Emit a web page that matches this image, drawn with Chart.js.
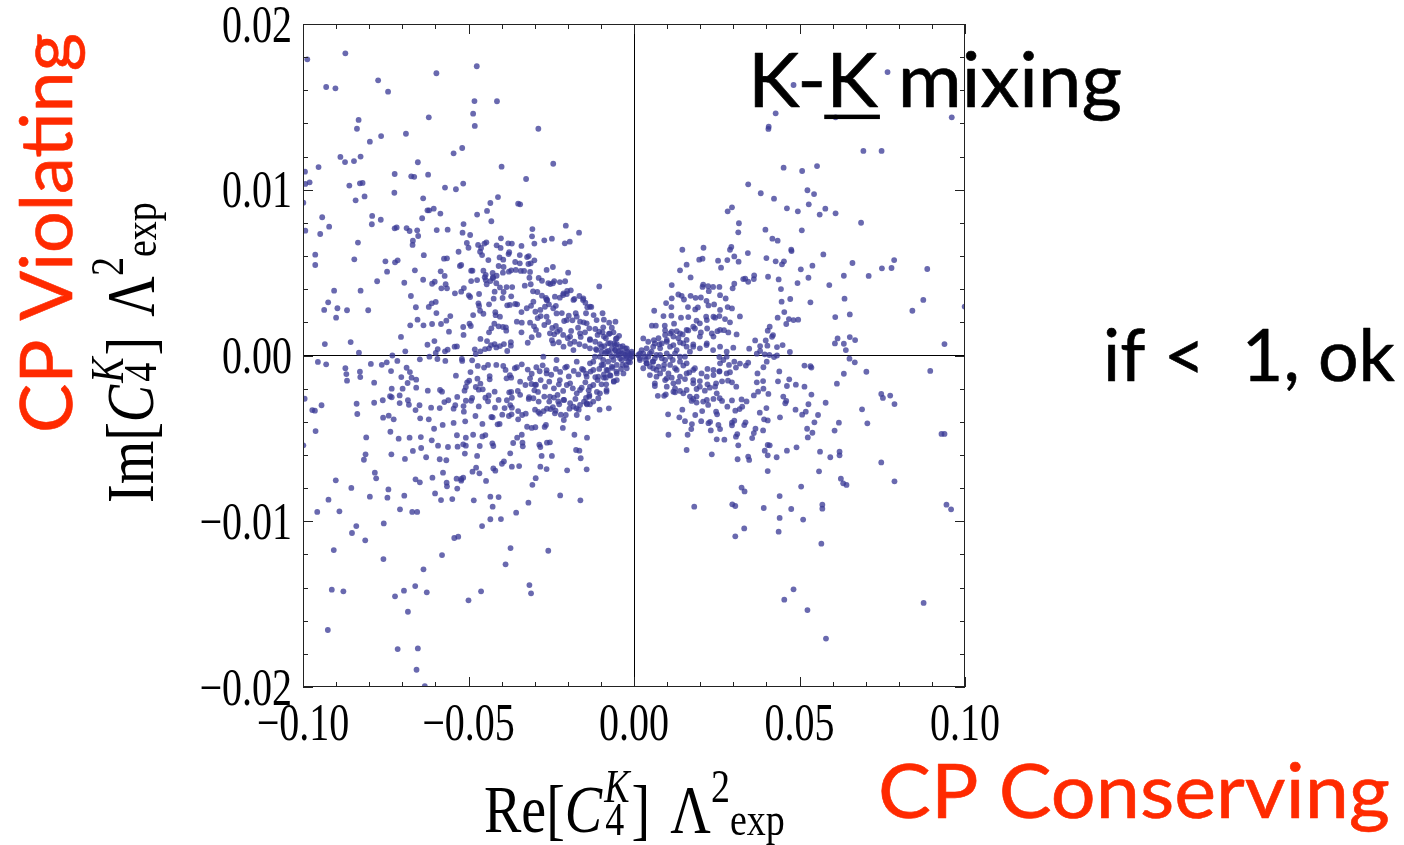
<!DOCTYPE html>
<html>
<head>
<meta charset="utf-8">
<script src="https://cdn.jsdelivr.net/npm/chart.js@4/dist/chart.umd.min.js"></script>
<style>
  html, body { margin: 0; padding: 0; background: #fff; }
  #wrap { width: 1404px; height: 845px; position: relative; }
</style>
</head>
<body>
<div id="wrap"><canvas id="grafik" width="1404" height="845"></canvas></div>
<script>
// Tick labels
const xTickLabels = ['\u22120.10', '\u22120.05', '0.00', '0.05', '0.10'];
const yTickLabels = ['\u22120.02', '\u22120.01', '0.00', '0.01', '0.02'];

// Points [Re, Im] grouped by region of the plane
const pointsNW = [[-0.0987,0.01787],[-0.0872,0.01823],[-0.0475,0.01745],[-0.0597,0.01703],[-0.0773,0.0166],[-0.093,0.0162],[-0.0902,0.01612],[-0.0743,0.01592],[-0.0482,0.01535],[-0.0414,0.01534],[-0.0486,0.01459],[-0.062,0.01437],[-0.0832,0.01421],[-0.0481,0.01385],[-0.0837,0.01368],[-0.0289,0.01368],[-0.0689,0.01338],[-0.0764,0.01324],[-0.0798,0.0129],[-0.0519,0.01252],[-0.0545,0.0122],[-0.0887,0.01198],[-0.0826,0.012],[-0.0873,0.01167],[-0.0846,0.01173],[-0.0653,0.01166],[-0.0244,0.01157],[-0.04,0.01139],[-0.0953,0.01137],[-0.0994,0.01109],[-0.0723,0.01095],[-0.0622,0.01091],[-0.0673,0.01081],[-0.0664,0.01078],[-0.0326,0.01065],[-0.0993,0.01035],[-0.098,0.01045],[-0.0828,0.01039],[-0.082,0.01041],[-0.086,0.01025],[-0.0516,0.01037],[-0.0571,0.01013],[-0.0538,0.01003],[-0.0724,0.00982],[-0.0814,0.0096],[-0.0637,0.00948],[-0.0841,0.00936],[-0.0434,0.0092],[-0.035,0.00916],[-0.0344,0.00912],[-0.0411,0.00956],[-0.0999,0.00922],[-0.0605,0.00886],[-0.0624,0.00876],[-0.0619,0.00876],[-0.0585,0.00856],[-0.0444,0.00872],[-0.0474,0.0085],[-0.064,0.00828],[-0.0942,0.00834],[-0.0791,0.00842],[-0.0765,0.00819],[-0.0431,0.0081],[-0.0792,0.00792],[-0.0515,0.00793],[-0.0921,0.00777],[-0.0717,0.00773],[-0.0723,0.00767],[-0.0687,0.00769],[-0.0307,0.00763],[-0.0206,0.00783],[-0.0993,0.00753],[-0.0655,0.00755],[-0.0678,0.00751],[-0.0596,0.00757],[-0.0563,0.00759],[-0.0518,0.00741],[-0.0166,0.00741],[-0.0948,0.00733],[-0.0652,0.00721],[-0.0495,0.00727],[-0.0402,0.00707],[-0.0308,0.00719],[-0.0271,0.00695],[-0.0248,0.00705],[-0.0194,0.00687],[-0.0209,0.00677],[-0.0834,0.00681],[-0.0668,0.00693],[-0.0669,0.00667],[-0.0505,0.00679],[-0.0471,0.00667],[-0.0462,0.00649],[-0.0452,0.00675],[-0.0446,0.00683],[-0.0415,0.00665],[-0.0403,0.00649],[-0.038,0.00677],[-0.0369,0.00675],[-0.034,0.00661],[-0.0301,0.00675],[-0.05,0.0065]];

const pointsNE = [[0.0766,0.0171],[0.0482,0.01632],[0.0428,0.01461],[0.0609,0.01437],[0.096,0.01437],[0.0407,0.0138],[0.0406,0.01367],[0.0693,0.01234],[0.0748,0.01234],[0.0452,0.01133],[0.0508,0.01113],[0.0553,0.01143],[0.0345,0.01033],[0.0383,0.00979],[0.0423,0.00946],[0.0524,0.00997],[0.0544,0.00974],[0.0528,0.00912],[0.0296,0.00894],[0.0283,0.0087],[0.0462,0.00888],[0.0495,0.0087],[0.0578,0.00886],[0.0561,0.0085],[0.0609,0.00858],[0.0317,0.00798],[0.0686,0.00801],[0.0315,0.00743],[0.0397,0.00759],[0.0507,0.00755],[0.0418,0.00705],[0.0434,0.00693],[0.0146,0.00638],[0.021,0.0065],[0.0294,0.00655],[0.029,0.00638],[0.0475,0.00638]];

const pointsW = [[-0.0963,0.00608],[-0.0963,0.00546],[-0.0845,0.0058],[-0.0751,0.00568],[-0.0722,0.00562],[-0.0714,0.00574],[-0.0746,0.00506],[-0.0635,0.00605],[-0.0776,0.00448],[-0.0906,0.00391],[-0.0826,0.00391],[-0.0924,0.00321],[-0.0936,0.00275],[-0.0896,0.00285],[-0.09,0.00228],[-0.0867,0.00273],[-0.0803,0.00273],[-0.0934,0.00069],[-0.0856,0.00081],[-0.0831,0.00017],[-0.0955,-0.00039],[-0.093,-0.00053],[-0.0872,-0.00077],[-0.0869,-0.00112],[-0.0867,-0.00152],[-0.0828,-0.00098],[-0.0827,-0.0013],[-0.0795,-0.00051],[-0.0762,-0.00056],[-0.0747,-0.00041],[-0.0785,-0.00164],[-0.0995,-0.00261],[-0.0972,-0.00329],[-0.0964,-0.00333],[-0.0944,-0.003],[-0.0962,-0.00456],[-0.0999,-0.00542],[-0.0838,-0.00291],[-0.0836,-0.00353],[-0.0785,-0.00285],[-0.0759,-0.0027],[-0.0758,-0.00375],[-0.0741,-0.00363],[-0.0726,-0.00385],[-0.0736,-0.0046],[-0.0809,-0.00494],[-0.0811,-0.00596],[-0.0816,-0.00629],[-0.0733,-0.00596],[-0.0711,-0.00502],[-0.0692,-0.00624],[-0.0678,-0.00496],[-0.0668,-0.00576],[-0.0644,-0.00492],[-0.0643,-0.00558],[-0.0628,-0.00614],[-0.0611,-0.00512],[-0.0592,-0.00544],[-0.0587,-0.00626],[-0.0567,-0.00632],[-0.0562,-0.00552],[-0.0535,-0.00481],[-0.0533,-0.0055],[-0.0516,-0.00536],[-0.0508,-0.00544],[-0.0511,-0.00592],[-0.0508,-0.00496],[-0.0486,-0.00478],[-0.0474,-0.00606],[-0.0477,-0.00677],[-0.0466,-0.00546],[-0.0458,-0.00488],[-0.0449,-0.0048],[-0.0428,-0.0053],[-0.0425,-0.00546],[-0.0399,-0.00653],[-0.0393,-0.00639],[-0.0425,-0.00681],[-0.0374,-0.0059],[-0.0369,-0.00671],[-0.0347,-0.00667],[-0.0353,-0.00496],[-0.0365,-0.00528],[-0.0339,-0.00478],[-0.0337,-0.00526],[-0.0336,-0.00548],[-0.0309,-0.00437],[-0.0283,-0.00552],[-0.0286,-0.00538],[-0.0283,-0.00671],[-0.0279,-0.00606],[-0.0263,-0.00526],[-0.0254,-0.00524],[-0.0264,-0.00685],[-0.0248,-0.00606],[-0.0215,-0.00437],[-0.018,-0.00478],[-0.0175,-0.0057],[-0.0165,-0.00574],[-0.0161,-0.0062],[-0.0142,-0.00496],[-0.0143,-0.00687]];

const pointsWMid = [[-0.0694,0.00439],[-0.0662,0.00514],[-0.0674,0.00359],[-0.0659,0.00291],[-0.0654,0.00216],[-0.0676,0.00182],[-0.0704,0.00112],[-0.073,0.0],[-0.0715,-0.00033],[-0.0691,0.00025],[-0.0636,0.00182],[-0.062,0.00293],[-0.0611,0.00315],[-0.0599,0.00323],[-0.0637,0.00457],[-0.061,0.00433],[-0.0602,0.00445],[-0.0584,0.00508],[-0.0574,0.00584],[-0.0565,0.00586],[-0.0572,0.0048],[-0.0582,0.00405],[-0.0565,0.00405],[-0.0569,0.0043],[-0.0597,0.00256],[-0.061,0.0019],[-0.0583,0.0019],[-0.0567,0.0021],[-0.0555,0.00238],[-0.0559,0.00144],[-0.0624,0.00065],[-0.0603,0.00087],[-0.0599,0.00015],[-0.0593,0.00039],[-0.0571,0.00025],[-0.0563,0.00035],[-0.0542,0.00053],[-0.0535,0.00055],[-0.0647,-0.00023],[-0.0618,-0.00007],[-0.0594,-0.00021],[-0.057,-0.00033],[-0.0734,-0.00094],[-0.0703,-0.0013],[-0.0687,-0.00074],[-0.0677,-0.001],[-0.0684,-0.00166],[-0.0658,-0.00146],[-0.0672,-0.00134],[-0.0732,-0.002],[-0.0699,-0.002],[-0.0658,-0.00194],[-0.0623,-0.00212],[-0.0586,-0.00208],[-0.058,-0.00218],[-0.0708,-0.00241],[-0.0732,-0.00252],[-0.0737,-0.00246],[-0.0708,-0.00287],[-0.0683,-0.0027],[-0.068,-0.00297],[-0.066,-0.00329],[-0.0648,-0.003],[-0.0646,-0.00379],[-0.062,-0.00385],[-0.0604,-0.00442],[-0.0613,-0.00315],[-0.0587,-0.00317],[-0.0578,-0.00419],[-0.0573,-0.00281],[-0.0561,-0.0027],[-0.0545,-0.00321],[-0.054,-0.003],[-0.0534,-0.0025],[-0.0545,-0.00407],[-0.0515,-0.00305],[-0.0508,-0.00273],[-0.0514,-0.00339],[-0.051,-0.00397],[-0.0512,-0.00212],[-0.0508,-0.0019],[-0.0498,-0.00152],[-0.0489,-0.00256],[-0.0492,-0.00273],[-0.0479,-0.00365],[-0.0469,-0.00307],[-0.0458,-0.00413],[-0.0519,-0.00033],[-0.052,-0.00021],[-0.0489,-0.00029],[-0.0538,-0.00122],[-0.0504,-0.00162],[-0.0494,-0.001],[-0.0473,-0.0014],[-0.0464,-0.0017],[-0.0478,-0.0019],[-0.0469,-0.00206],[-0.0457,-0.00204],[-0.0453,-0.00073],[-0.0441,-0.00057],[-0.0472,-0.00063],[-0.0436,-0.00124],[-0.0436,-0.00144],[-0.0421,-0.00218],[-0.0439,-0.00241],[-0.0441,-0.00276],[-0.0449,-0.00255],[-0.042,-0.00315],[-0.0409,-0.00268],[-0.0431,-0.00371],[-0.0427,-0.00373],[-0.0406,-0.00413],[-0.0412,-0.00415],[-0.0391,-0.00317],[-0.0398,-0.00357],[-0.0377,-0.00222],[-0.0371,-0.0022],[-0.0384,-0.0027],[-0.0369,-0.00255],[-0.0374,-0.00299],[-0.0369,-0.00315],[-0.0378,-0.00365],[-0.037,-0.00355],[-0.0385,-0.00138],[-0.0375,-0.00119],[-0.0371,-0.00134],[-0.0416,-0.00057],[-0.0395,-0.00063],[-0.0388,-0.00087],[-0.036,-0.00077],[-0.0351,-0.00214],[-0.0344,-0.00237],[-0.035,-0.00335],[-0.035,-0.00385],[-0.0338,-0.00359],[-0.0327,-0.00351],[-0.0318,-0.00262],[-0.0317,-0.00252],[-0.031,-0.00172],[-0.0296,-0.00176],[-0.0301,-0.0021],[-0.029,-0.0022],[-0.0299,-0.00327],[-0.0289,-0.00341],[-0.0284,-0.00351],[-0.0323,-0.0043],[-0.0298,-0.00433],[-0.027,-0.00431],[-0.0266,-0.00419],[-0.0273,-0.00335],[-0.0263,-0.00321],[-0.0245,-0.00311],[-0.0252,-0.00323],[-0.0237,-0.00333],[-0.0221,-0.00357],[-0.0212,-0.00389],[-0.0206,-0.00359],[-0.0229,-0.00277],[-0.0231,-0.00238],[-0.0195,-0.00321],[-0.0174,-0.00319],[-0.0167,-0.00327],[-0.0145,-0.00256],[-0.0135,-0.00238],[-0.014,-0.00377],[-0.0142,-0.00294],[-0.0133,-0.00294],[-0.0104,-0.00327],[-0.0076,-0.00319],[-0.0112,-0.0022],[-0.0061,-0.00154],[-0.0084,-0.00174],[-0.0091,-0.00134]];

const pointsWUpper = [[-0.053,0.00626],[-0.0459,0.00606],[-0.0465,0.00626],[-0.044,0.00576],[-0.0406,0.00592],[-0.0395,0.00578],[-0.0379,0.00612],[-0.0377,0.00623],[-0.0345,0.00606],[-0.0345,0.00556],[-0.0359,0.00564],[-0.0323,0.00594],[-0.0318,0.006],[-0.0312,0.00556],[-0.0301,0.00574],[-0.0526,0.0054],[-0.0522,0.00546],[-0.0492,0.00512],[-0.0488,0.00512],[-0.0455,0.00512],[-0.0448,0.00487],[-0.0451,0.00472],[-0.0427,0.00498],[-0.0426,0.00472],[-0.0415,0.00481],[-0.0409,0.0054],[-0.0394,0.00534],[-0.0396,0.005],[-0.0378,0.00506],[-0.0371,0.00514],[-0.0357,0.00516],[-0.0342,0.0051],[-0.0332,0.0051],[-0.0314,0.00504],[-0.0319,0.00552],[-0.0264,0.00516],[-0.0245,0.00534],[-0.0199,0.005],[-0.0492,0.00449],[-0.0474,0.00455],[-0.0448,0.00455],[-0.0541,0.00375],[-0.0522,0.00385],[-0.0514,0.00407],[-0.0499,0.00363],[-0.0495,0.00353],[-0.0468,0.00371],[-0.047,0.00315],[-0.0468,0.00299],[-0.0465,0.0027],[-0.0486,0.00244],[-0.0455,0.00252],[-0.0497,0.00192],[-0.0493,0.00178],[-0.0516,0.00172],[-0.0515,0.00124],[-0.0445,0.0043],[-0.0434,0.00449],[-0.0426,0.00466],[-0.0416,0.00436],[-0.0421,0.00385],[-0.0424,0.00343],[-0.0405,0.00411],[-0.0394,0.00383],[-0.0397,0.00347],[-0.0385,0.00413],[-0.0368,0.00413],[-0.0371,0.00357],[-0.0383,0.00303],[-0.0375,0.00305],[-0.0359,0.00311],[-0.0438,0.00309],[-0.0419,0.00261],[-0.0418,0.00243],[-0.0431,0.00164],[-0.0438,0.0014],[-0.0422,0.00192],[-0.0409,0.00176],[-0.0464,0.001],[-0.0444,0.00087],[-0.0432,0.00063],[-0.0421,0.00068],[-0.0416,0.00049],[-0.0405,0.00057],[-0.0481,0.00037],[-0.0478,0.00009],[-0.0464,0.00025],[-0.045,0.00039],[-0.0438,0.00043],[-0.0405,0.00234],[-0.0396,0.00172],[-0.0387,0.0017],[-0.0386,0.0015],[-0.0393,0.00069],[-0.0372,0.0008],[-0.0372,0.00059],[-0.0383,0.00027],[-0.0353,0.00309],[-0.034,0.00262],[-0.0339,0.00198],[-0.0354,0.00204],[-0.034,0.0014],[-0.033,0.00421],[-0.0312,0.0043],[-0.0305,0.00387],[-0.0292,0.00383],[-0.0304,0.00325],[-0.0316,0.00469],[-0.0288,0.00468],[-0.0278,0.00451],[-0.0259,0.00437],[-0.0253,0.00431],[-0.0245,0.00436],[-0.0241,0.00449],[-0.0224,0.00443],[-0.0208,0.00448],[-0.0202,0.00389],[-0.0191,0.00393],[-0.0203,0.00371],[-0.0278,0.00361],[-0.0266,0.00347],[-0.0262,0.00335],[-0.0269,0.00294],[-0.0257,0.00309],[-0.0244,0.00285],[-0.0236,0.003],[-0.0324,0.00285],[-0.0311,0.003],[-0.0298,0.00264],[-0.0283,0.00275],[-0.0282,0.00238],[-0.0291,0.00226],[-0.0314,0.00198],[-0.0302,0.00176],[-0.0296,0.00154],[-0.0288,0.00124],[-0.0309,0.0011],[-0.0321,0.00077],[-0.0271,0.00184],[-0.0259,0.00202],[-0.0247,0.00166],[-0.0236,0.00178],[-0.0232,0.00144],[-0.0241,0.00128],[-0.0248,0.00092],[-0.0227,0.0008],[-0.0218,0.00256],[-0.0211,0.00208],[-0.0197,0.0024],[-0.0186,0.00212],[-0.0176,0.00255],[-0.0163,0.00204],[-0.0152,0.002],[-0.0224,0.00349],[-0.0214,0.00365],[-0.018,0.00341],[-0.0165,0.00359],[-0.0154,0.00335],[-0.0147,0.00319],[-0.0141,0.00291],[-0.0129,0.00293],[-0.0122,0.00244],[-0.0145,0.00255],[-0.0105,0.00417],[-0.0095,0.00255],[-0.0091,0.00216],[-0.0075,0.00198],[-0.0056,0.00204],[-0.0067,0.00168],[-0.0093,0.0017],[-0.0117,0.0016],[-0.0135,0.00164],[-0.011,0.00124],[-0.0095,0.0014],[-0.0085,0.00104],[-0.0076,0.0013],[-0.0062,0.0014],[-0.0045,0.00119],[-0.0055,0.001],[-0.0169,0.00168],[-0.0148,0.0014],[-0.0161,0.00112],[-0.0133,0.00098],[-0.0117,0.00083],[-0.0103,0.00069],[-0.009,0.00057],[-0.0072,0.00074],[-0.0052,0.00068],[-0.0034,0.00057],[-0.0022,0.00043],[-0.0007,0.00023],[-0.0042,0.00027],[-0.0057,0.00033],[-0.0078,0.00027],[-0.0098,0.00023],[-0.0115,0.00039],[-0.0133,0.00043],[-0.0148,0.00057],[-0.0165,0.00068],[-0.018,0.00083],[-0.0193,0.00071],[-0.02,0.00104],[-0.0214,0.00124],[-0.019,0.00148]];

const pointsWLower = [[-0.0354,-0.00071],[-0.0339,-0.00053],[-0.0321,-0.00085],[-0.0309,-0.0011],[-0.0295,-0.00071],[-0.0285,-0.00095],[-0.0276,-0.00059],[-0.0264,-0.00089],[-0.025,-0.00116],[-0.0236,-0.00081],[-0.0223,-0.00099],[-0.0208,-0.00073],[-0.0197,-0.00126],[-0.0182,-0.00093],[-0.0168,-0.00114],[-0.0157,-0.00081],[-0.0145,-0.0011],[-0.0131,-0.00097],[-0.0117,-0.0013],[-0.0105,-0.00081],[-0.0091,-0.00114],[-0.0079,-0.00089],[-0.0065,-0.00075],[-0.0053,-0.00097],[-0.0039,-0.00081],[-0.0024,-0.00057],[-0.0012,-0.00041],[-0.0344,-0.00158],[-0.0328,-0.00178],[-0.0314,-0.00138],[-0.0299,-0.00178],[-0.0282,-0.00148],[-0.0269,-0.00188],[-0.0256,-0.00158],[-0.0242,-0.00198],[-0.0227,-0.00174],[-0.0214,-0.00214],[-0.0203,-0.00178],[-0.0185,-0.00198],[-0.0173,-0.00228],[-0.0158,-0.00194],[-0.0147,-0.00162],[-0.0137,-0.0021],[-0.0123,-0.00178],[-0.011,-0.00148],[-0.0098,-0.00174],[-0.0085,-0.00134],[-0.0071,-0.00122],[-0.0052,-0.00108],[-0.0304,-0.00258],[-0.0288,-0.00278],[-0.0271,-0.00248],[-0.0256,-0.00278],[-0.0242,-0.00254],[-0.0226,-0.00294],[-0.0211,-0.00268],[-0.0193,-0.00288],[-0.0177,-0.00262],[-0.0163,-0.00298],[-0.0151,-0.00278],[-0.0135,-0.00248],[-0.0123,-0.00278],[-0.0108,-0.00258],[-0.0083,-0.00218],[-0.0061,-0.00158]];

const pointsCore = [[-0.0032,0.00013],[-0.002,0.00023],[-0.0012,0.00003],[-0.0024,-0.00017],[-0.0037,-0.00027],[-0.0047,0.00003],[-0.0057,0.00033],[-0.0067,-0.00007],[-0.0078,-0.00037],[-0.0088,0.00013],[-0.0098,0.00053],[-0.0042,0.00053],[-0.0027,0.00043],[-0.0052,-0.00057],[-0.0067,-0.00067],[-0.0083,-0.00087],[-0.0093,-0.00057],[-0.0012,-0.00017],[-0.0007,-0.00007],[-0.0017,-0.00037],[-0.0034,-0.00057],[-0.006,0.00073],[-0.0078,0.00073],[-0.0091,0.00114],[-0.0105,0.00144],[-0.0073,0.00134],[-0.0052,0.00104],[-0.0118,-0.00007],[-0.0133,-0.00047],[-0.0123,-0.00087],[-0.0143,-0.00128],[-0.0108,-0.00128],[-0.0073,-0.00118],[0.0013,0.00003],[0.0018,-0.00017],[0.0028,0.00013],[0.0036,-0.00027],[0.0043,-0.00007],[0.0053,0.00023],[0.0058,-0.00037],[0.0068,0.00003],[0.0079,0.00043],[0.0084,-0.00017],[0.0091,-0.00057],[0.0099,0.00013],[0.0109,0.00053],[0.0117,-0.00027],[0.0124,-0.00077],[0.0129,0.00033],[0.0139,-0.00007],[0.0149,0.00073],[0.0159,-0.00047],[0.0169,0.00023],[0.0179,-0.00087],[0.0063,0.00073],[0.0074,0.00104],[0.0094,0.00124],[0.0114,0.00144],[0.0134,0.00104],[0.0048,-0.00067],[0.0068,-0.00087],[0.0104,-0.00108],[0.0023,0.00033]];

const pointsCoreLeft = [[-0.0264,0.00335],[-0.0239,0.00355],[-0.0213,0.00375],[-0.0183,0.00335],[-0.0153,0.00345],[-0.0133,0.00295],[-0.0264,0.00234],[-0.0234,0.00254],[-0.0203,0.00214],[-0.0173,0.00234],[-0.0143,0.00194],[-0.0113,0.00214],[-0.0254,0.00134],[-0.0224,0.00154],[-0.0193,0.00114],[-0.0163,0.00134],[-0.0133,0.00094],[-0.0183,0.00033],[-0.0213,0.00053],[-0.0244,0.00073],[-0.0274,-0.00007],[-0.0234,-0.00027],[-0.0203,-0.00067],[-0.0173,-0.00037],[-0.0153,-0.00087],[-0.0264,-0.00108],[-0.0224,-0.00148],[-0.0193,-0.00168],[-0.0163,-0.00208],[-0.0133,-0.00188],[-0.0103,-0.00228],[-0.0254,-0.00248],[-0.0213,-0.00268],[-0.0183,-0.00309],[-0.0143,-0.00289],[-0.0083,-0.00208],[-0.0052,-0.00148],[-0.0032,-0.00108],[-0.0022,-0.00077],[-0.0239,-0.00349],[-0.0173,-0.00359],[-0.0083,0.00023],[-0.0067,0.00043],[-0.0054,0.00003],[-0.0042,-0.00017],[-0.0027,0.00003],[-0.0017,0.00013],[-0.0007,0.00013],[-0.0103,-0.00007],[-0.0093,-0.00027],[-0.0062,-0.00027],[-0.0047,0.00023],[-0.0022,-0.00007],[-0.0037,0.00013],[-0.0073,0.00013],[-0.0113,0.00033],[-0.0098,-0.00057],[-0.0123,-0.00037],[-0.0057,0.00063]];

const pointsCoreRight = [[0.0018,0.00013],[0.0033,-0.00007],[0.0048,0.00013],[0.0063,-0.00017],[0.0079,0.00003],[0.0094,-0.00027],[0.0109,-0.00007],[0.0124,0.00013],[0.0139,-0.00037],[0.0154,-0.00007],[0.0038,0.00043],[0.0058,0.00053],[0.0084,0.00073],[0.0099,0.00094],[0.0119,0.00114],[0.0139,0.00134],[0.0159,0.00154],[0.0179,0.00174],[0.0199,0.00194],[0.022,0.00214],[0.024,0.00234],[0.026,0.00275],[0.0199,0.00114],[0.022,0.00073],[0.024,0.00114],[0.026,0.00154],[0.0179,0.00053],[0.0159,0.00094],[0.0038,-0.00047],[0.0058,-0.00077],[0.0079,-0.00108],[0.0099,-0.00138],[0.0119,-0.00168],[0.0139,-0.00128],[0.0159,-0.00108],[0.0179,-0.00148],[0.0199,-0.00188],[0.022,-0.00128],[0.024,-0.00087],[0.026,-0.00047],[0.028,-0.00007],[0.0159,-0.00208],[0.0189,-0.00248],[0.022,-0.00268],[0.025,-0.00228]];

const pointsE = [[0.0344,0.00618],[0.0476,0.0063],[0.0572,0.0061],[0.0139,0.00514],[0.0159,0.00548],[0.0171,0.00471],[0.0197,0.00578],[0.0207,0.00584],[0.0254,0.00572],[0.0282,0.00576],[0.0263,0.0053],[0.0303,0.00598],[0.0316,0.00566],[0.033,0.00461],[0.0336,0.00463],[0.0345,0.00445],[0.0363,0.00483],[0.0362,0.00461],[0.04,0.00588],[0.0428,0.00568],[0.0447,0.0055],[0.0453,0.00568],[0.0405,0.00475],[0.0437,0.00459],[0.0504,0.0052],[0.0539,0.00542],[0.0527,0.00469],[0.0494,0.00437],[0.0444,0.00401],[0.0472,0.00341],[0.0446,0.00325],[0.0533,0.00321],[0.059,0.00425],[0.0634,0.00481],[0.066,0.00558],[0.0709,0.0048],[0.0749,0.00526],[0.0778,0.00528],[0.0786,0.00576],[0.0886,0.00522],[0.0636,0.00343],[0.0652,0.00248],[0.0608,0.00232],[0.0841,0.0027],[0.0874,0.00335],[0.0999,0.00295],[0.0454,0.00262],[0.0468,0.0022],[0.046,0.0019],[0.0482,0.00214],[0.0496,0.00216],[0.0434,0.00228],[0.041,0.00174],[0.0404,0.0015],[0.0417,0.00113],[0.042,0.00123],[0.0607,0.00073],[0.0615,0.00103],[0.0634,0.00071],[0.0652,0.00111],[0.0668,0.00093],[0.064,0.00033],[0.0938,0.00069],[0.0432,0.00051],[0.0449,0.00063],[0.0471,0.00021],[0.0432,0.0],[0.0366,0.00091],[0.0381,0.00057],[0.0398,0.00091],[0.0403,0.00059],[0.0348,0.00041],[0.0371,0.00011],[0.0381,0.00027],[0.0395,0.00007],[0.0409,0.00003],[0.0423,-0.00009],[0.0651,-0.00019],[0.0667,-0.00041],[0.0515,-0.00061],[0.0533,-0.00065],[0.0536,-0.00073],[0.0702,-0.00098],[0.0895,-0.00093],[0.0634,-0.0011],[0.0613,-0.0017],[0.0747,-0.00232],[0.0752,-0.00256],[0.0774,-0.00242],[0.0787,-0.00293],[0.0689,-0.00325],[0.0705,-0.00409],[0.0619,-0.00405],[0.0606,-0.00453],[0.0579,-0.00285],[0.0556,-0.00359],[0.0545,-0.00403],[0.0539,-0.00466],[0.0523,-0.00442],[0.0525,-0.00494],[0.0929,-0.00473],[0.0938,-0.00473],[0.0515,-0.00188],[0.0536,-0.00236],[0.0527,-0.00294],[0.0488,-0.00327],[0.0508,-0.00357],[0.0519,-0.00339],[0.046,-0.00274],[0.0451,-0.00248],[0.0457,-0.00288],[0.0489,-0.00176],[0.0469,-0.00144],[0.0462,-0.00184],[0.0439,-0.00096],[0.0435,-0.00156],[0.0441,-0.00373],[0.0562,-0.0058],[0.0593,-0.00614],[0.0621,-0.0058],[0.0621,-0.00602],[0.0747,-0.00645],[0.0462,-0.00574],[0.0491,-0.00554],[0.0404,-0.0054],[0.041,-0.00542],[0.0395,-0.00574],[0.0431,-0.00614],[0.0404,-0.00602],[0.04,-0.00317],[0.038,-0.00345],[0.0404,-0.00392],[0.039,-0.00452],[0.0393,-0.00385],[0.0367,-0.00442],[0.0357,-0.00498],[0.0362,-0.00468],[0.0345,-0.0061],[0.0348,-0.0063],[0.0313,-0.00626],[0.0315,-0.00542],[0.0308,-0.0049],[0.0312,-0.00474],[0.0333,-0.0042],[0.0337,-0.00403],[0.0296,-0.00405],[0.0303,-0.00393],[0.0296,-0.00421],[0.0273,-0.00508],[0.025,-0.00506],[0.0235,-0.00596],[0.0159,-0.0057],[0.0104,-0.00478],[0.0162,-0.00478],[0.0154,-0.00396],[0.0173,-0.00444],[0.0175,-0.00414],[0.0103,-0.00355],[0.0137,-0.00373],[0.0146,-0.00327],[0.0185,-0.00359],[0.0206,-0.00335],[0.0203,-0.00396],[0.0225,-0.00408],[0.023,-0.004],[0.0232,-0.00452],[0.0255,-0.00419],[0.026,-0.00444],[0.0248,-0.00339],[0.0251,-0.00355],[0.0282,-0.00309],[0.0306,-0.00333],[0.0319,-0.00323],[0.0327,-0.00309],[0.0296,-0.00271],[0.0325,-0.00265],[0.034,-0.00277],[0.0362,-0.00241],[0.0375,-0.00218],[0.0391,-0.002],[0.0406,-0.00232],[0.0371,-0.00162],[0.039,-0.00154],[0.0373,-0.00108],[0.0391,-0.00071],[0.0401,-0.00037]];

const pointsEInner = [[0.0072,-0.00243],[0.0091,-0.00243],[0.0096,-0.00235],[0.0063,-0.00184],[0.0119,-0.00218],[0.0124,-0.00222],[0.0139,-0.00214],[0.0169,-0.00248],[0.0179,-0.00262],[0.0174,-0.00274],[0.0189,-0.00284],[0.0209,-0.00278],[0.0224,-0.00298],[0.024,-0.00262],[0.0259,-0.00258],[0.0266,-0.00274],[0.0214,-0.00212],[0.0229,-0.00194],[0.0248,-0.00168],[0.0266,-0.00156],[0.0284,-0.00152],[0.0296,-0.00162],[0.0309,-0.00188],[0.028,-0.00108],[0.029,-0.00101],[0.0308,-0.00073],[0.032,-0.00049],[0.0338,-0.00061],[0.0345,-0.00043],[0.0303,-0.00037],[0.0258,-0.00097],[0.0287,-0.00057],[0.027,-0.00027],[0.0258,-0.00009],[0.0061,0.0027],[0.0054,0.0018],[0.0066,0.0018],[0.0114,0.00425],[0.0097,0.00316],[0.0114,0.00345],[0.0113,0.00292],[0.0134,0.00368],[0.0089,0.00238],[0.0113,0.0024],[0.0093,0.0018],[0.0121,0.00192],[0.0144,0.0036],[0.0151,0.00338],[0.0171,0.0036],[0.0186,0.00348],[0.0202,0.0035],[0.0219,0.0033],[0.0207,0.00414],[0.0209,0.00428],[0.0226,0.00388],[0.0239,0.00414],[0.0258,0.00414],[0.0224,0.00418],[0.0163,0.00292],[0.0185,0.00278],[0.0193,0.0029],[0.0225,0.00302],[0.0242,0.00308],[0.026,0.00364],[0.0277,0.00344],[0.0283,0.00292],[0.0296,0.00284],[0.0298,0.00405],[0.0303,0.00433],[0.032,0.00236],[0.0142,0.00228],[0.0164,0.00232],[0.0189,0.0021],[0.0218,0.00234],[0.0245,0.00228],[0.0258,0.00238],[0.0275,0.0022],[0.029,0.002],[0.0094,0.00151],[0.0109,0.00133],[0.0129,0.00147],[0.0147,0.00127],[0.0164,0.00151],[0.0184,0.00163],[0.0202,0.00139],[0.0221,0.00163],[0.0235,0.00133],[0.0252,0.00147],[0.0272,0.00153],[0.0285,0.00139],[0.031,0.00127],[0.0028,0.00103],[0.0043,0.00083],[0.006,0.00093],[0.0077,0.00067],[0.0099,0.00083],[0.0119,0.00063],[0.0139,0.00079],[0.0159,0.00053],[0.0179,0.00067],[0.0199,0.00043],[0.0219,0.00063],[0.0239,0.00033],[0.026,0.00053],[0.028,0.00023],[0.03,0.00047],[0.0018,-0.00027],[0.0038,-0.00047],[0.0056,-0.00037],[0.0074,-0.00067],[0.0089,-0.00081],[0.0109,-0.00057],[0.0129,-0.00087],[0.0149,-0.00061],[0.0167,-0.00102],[0.0184,-0.00077],[0.0204,-0.00108],[0.0222,-0.00081],[0.024,-0.00118],[0.0258,-0.00094],[0.0028,-0.00077],[0.0048,-0.00118],[0.0068,-0.00128],[0.0094,-0.00148],[0.0114,-0.00134],[0.0134,-0.00158],[0.0154,-0.00142],[0.0179,-0.00168],[0.0199,-0.00154],[0.0222,-0.00174],[0.0245,-0.00188],[0.0099,-0.00188],[0.0124,-0.00198],[0.0149,-0.00228],[0.0189,-0.00202],[0.0063,-0.00168]];

const pointsSW = [[-0.0783,-0.00707],[-0.0779,-0.00741],[-0.0901,-0.00753],[-0.0854,-0.00799],[-0.0923,-0.0087],[-0.0957,-0.00944],[-0.089,-0.0094],[-0.0798,-0.00852],[-0.0745,-0.00858],[-0.0742,-0.00808],[-0.0694,-0.00846],[-0.0707,-0.00928],[-0.067,-0.00944],[-0.0655,-0.00944],[-0.0756,-0.01013],[-0.0839,-0.01029],[-0.0852,-0.01071],[-0.0812,-0.01115],[-0.0907,-0.01174],[-0.0757,-0.01228],[-0.066,-0.00747],[-0.0647,-0.00765],[-0.0609,-0.00737],[-0.0601,-0.00832],[-0.0577,-0.00707],[-0.0566,-0.00767],[-0.0565,-0.00789],[-0.0583,-0.00872],[-0.0549,-0.00866],[-0.0536,-0.00743],[-0.0534,-0.00803],[-0.0522,-0.00755],[-0.0516,-0.00737],[-0.0522,-0.00745],[-0.0488,-0.00701],[-0.0467,-0.00711],[-0.0484,-0.00874],[-0.0447,-0.00757],[-0.0459,-0.01029],[-0.0434,-0.00852],[-0.0427,-0.00912],[-0.0434,-0.00988],[-0.0419,-0.00695],[-0.0409,-0.00854],[-0.0402,-0.00987],[-0.0356,-0.00948],[-0.0543,-0.01101],[-0.0531,-0.01093],[-0.058,-0.01204],[-0.0636,-0.0129],[-0.0373,-0.01162],[-0.0388,-0.0126],[-0.0319,-0.00888],[-0.0307,-0.0078],[-0.0297,-0.0074],[-0.0202,-0.00693],[-0.0223,-0.00844],[-0.0162,-0.00874],[-0.0259,-0.01178],[-0.0316,-0.01385],[-0.0311,-0.01435],[-0.0661,-0.01391],[-0.0695,-0.01419],[-0.0626,-0.01429],[-0.0722,-0.01453],[-0.0913,-0.01413],[-0.0878,-0.01423],[-0.0683,-0.01546],[-0.05,-0.01477],[-0.0462,-0.01423],[-0.0925,-0.01656],[-0.0714,-0.01771],[-0.0653,-0.01767],[-0.0657,-0.01896],[-0.0632,-0.01995]];

const pointsSE = [[0.0404,-0.00697],[0.0559,-0.00699],[0.0625,-0.00743],[0.0632,-0.00771],[0.0642,-0.00781],[0.0787,-0.00759],[0.0325,-0.00797],[0.0334,-0.0082],[0.0505,-0.00791],[0.044,-0.00848],[0.0182,-0.00912],[0.0297,-0.00898],[0.0306,-0.00908],[0.0392,-0.0092],[0.0475,-0.00926],[0.0569,-0.009],[0.0569,-0.00924],[0.0944,-0.009],[0.0958,-0.00928],[0.044,-0.0098],[0.0511,-0.0099],[0.0437,-0.01063],[0.0333,-0.01043],[0.0306,-0.01091],[0.0566,-0.01135],[0.0482,-0.01411],[0.0454,-0.01473],[0.0524,-0.01536],[0.0875,-0.01493],[0.058,-0.01708]];

const allPoints = [].concat(pointsNW, pointsNE, pointsW, pointsWMid, pointsWUpper, pointsWLower,
  pointsCore, pointsCoreLeft, pointsCoreRight, pointsE, pointsEInner, pointsSW, pointsSE);

const SERIF = '"Liberation Serif", "Times New Roman", serif';
const SANS = 'Lato, "Open Sans", sans-serif';
const RED = '#ff2a00';
const STRETCH = 1.3;       // tall, narrow look of the tick numbers
const LABEL_STRETCH = 1.22;

function isMajor(v, step) {
  return Math.abs(v / step - Math.round(v / step)) < 1e-6;
}

// sans text with a fixed cap height, scaled horizontally to the given width
function fitText(ctx, pieces, x, y, width, cap, angle, color, underlineIdx) {
  const size = cap / 0.72;
  ctx.save();
  ctx.font = size + 'px ' + SANS;
  const full = ctx.measureText(pieces.join('')).width;
  ctx.translate(x, y);
  ctx.rotate(angle);
  ctx.scale(width / full, 1);
  ctx.fillStyle = color;
  ctx.strokeStyle = color;
  ctx.lineWidth = 0.6;
  ctx.lineJoin = 'round';
  ctx.textAlign = 'left';
  ctx.textBaseline = 'alphabetic';
  let cx = 0;
  pieces.forEach((p, i) => {
    const w = ctx.measureText(p).width;
    ctx.fillText(p, cx, 0);
    ctx.strokeText(p, cx, 0);
    if (i === underlineIdx) ctx.fillRect(cx - 2, size * 0.1, w + 4, size * 0.058);
    cx += w;
  });
  ctx.restore();
}

// Re[C_4^K] Λ^2_exp style label
function axisLabel(ctx, prefix, x, y, angle) {
  const F = 56, f = 38;
  ctx.save();
  ctx.translate(x, y);
  ctx.rotate(angle);
  ctx.scale(1, LABEL_STRETCH);
  ctx.fillStyle = '#000';
  ctx.textAlign = 'left';
  ctx.textBaseline = 'alphabetic';
  let cx = 0;
  const put = (t, font, dy, dx) => { ctx.font = font; ctx.fillText(t, cx + (dx || 0), dy); return ctx.measureText(t).width + (dx || 0); };
  cx += put(prefix + '[', F + 'px ' + SERIF, 0);
  cx += put('C', 'italic ' + F + 'px ' + SERIF, 0);
  const wk = put('K', 'italic ' + f + 'px ' + SERIF, -0.44 * F, 2);
  const w4 = put('4', f + 'px ' + SERIF, 0.05 * F, 3);
  cx += Math.max(wk, w4) + 2;
  cx += put(']', F + 'px ' + SERIF, 0);
  cx += F * 0.36;
  cx += put('\u039b', F + 'px ' + SERIF, 0);
  cx += put('2', f + 'px ' + SERIF, -0.44 * F);
  put('exp', f + 'px ' + SERIF, 0.05 * F);
  ctx.restore();
}

const decorations = {
  id: 'decorations',
  afterDraw(chart) {
    const { ctx, chartArea: a, scales: { x, y } } = chart;
    ctx.save();
    ctx.strokeStyle = '#222';
    ctx.lineWidth = 1;
    ctx.strokeRect(a.left + 0.5, a.top + 0.5, a.right - a.left - 1, a.bottom - a.top - 1);

    // inward ticks on all four sides
    ctx.beginPath();
    x.ticks.forEach(t => {
      const px = Math.round(x.getPixelForValue(t.value)) + 0.5;
      const len = t.label ? 10 : 5;
      ctx.moveTo(px, a.bottom); ctx.lineTo(px, a.bottom - len);
      ctx.moveTo(px, a.top); ctx.lineTo(px, a.top + len);
    });
    y.ticks.forEach(t => {
      const py = Math.round(y.getPixelForValue(t.value)) + 0.5;
      const len = t.label ? 10 : 5;
      ctx.moveTo(a.left, py); ctx.lineTo(a.left + len, py);
      ctx.moveTo(a.right, py); ctx.lineTo(a.right - len, py);
    });
    ctx.stroke();

    // tick labels
    ctx.fillStyle = '#000';
    ctx.font = '40px ' + SERIF;
    ctx.textBaseline = 'alphabetic';
    x.ticks.forEach(t => {
      if (!t.label) return;
      ctx.save();
      ctx.translate(x.getPixelForValue(t.value), a.bottom + 53);
      ctx.scale(1, STRETCH);
      ctx.textAlign = 'center';
      ctx.fillText(t.label, 0, 0);
      ctx.restore();
    });
    y.ticks.forEach(t => {
      if (!t.label) return;
      ctx.save();
      ctx.translate(a.left - 11, y.getPixelForValue(t.value) + 17.5);
      ctx.scale(1, STRETCH);
      ctx.textAlign = 'right';
      ctx.fillText(t.label, 0, 0);
      ctx.restore();
    });
    ctx.restore();

    axisLabel(ctx, 'Re', 484, 832, 0);
    axisLabel(ctx, 'Im', 153, 503, -Math.PI / 2);

    fitText(ctx, ['CP Violating'], 72, 433, 400, 52, -Math.PI / 2, RED);
    fitText(ctx, ['CP Conserving'], 878, 818, 512, 54, 0, RED);
    fitText(ctx, ['K-', 'K', ' mixing'], 748, 107, 374, 55, 0, '#000', 1);
    fitText(ctx, ['if <  1, ok'], 1103, 381, 292, 52, 0, '#000');
  }
};

const ctx = document.getElementById('grafik').getContext('2d');
new Chart(ctx, {
  type: 'scatter',
  data: {
    datasets: [{
      data: allPoints.map(p => ({ x: p[0], y: p[1] })),
      pointRadius: 2.9,
      pointBorderWidth: 0,
      pointBackgroundColor: 'rgba(58, 58, 150, 0.76)',
      pointHoverRadius: 2.9
    }]
  },
  options: {
    responsive: false,
    animation: false,
    devicePixelRatio: 1,
    layout: { padding: { left: 303, top: 24, right: 1404 - 965, bottom: 845 - 687 } },
    plugins: { legend: { display: false }, tooltip: { enabled: false } },
    scales: {
      x: {
        type: 'linear', min: -0.1, max: 0.1, z: 1,
        afterFit: s => { s.height = 0; },
        ticks: {
          display: false, stepSize: 0.01, maxTicksLimit: 100, autoSkip: false,
          callback: v => isMajor(v, 0.05) ? xTickLabels[Math.round((v + 0.1) / 0.05)] : ''
        },
        grid: { drawTicks: false, lineWidth: 1, color: c => Math.abs(c.tick.value) < 1e-9 ? '#000' : 'rgba(0,0,0,0)' },
        border: { display: false }
      },
      y: {
        type: 'linear', min: -0.02, max: 0.02, z: 1,
        afterFit: s => { s.width = 0; },
        ticks: {
          display: false, stepSize: 0.002, maxTicksLimit: 100, autoSkip: false,
          callback: v => isMajor(v, 0.01) ? yTickLabels[Math.round((v + 0.02) / 0.01)] : ''
        },
        grid: { drawTicks: false, lineWidth: 1, color: c => Math.abs(c.tick.value) < 1e-9 ? '#000' : 'rgba(0,0,0,0)' },
        border: { display: false }
      }
    }
  },
  plugins: [decorations]
});
</script>
</body>
</html>
